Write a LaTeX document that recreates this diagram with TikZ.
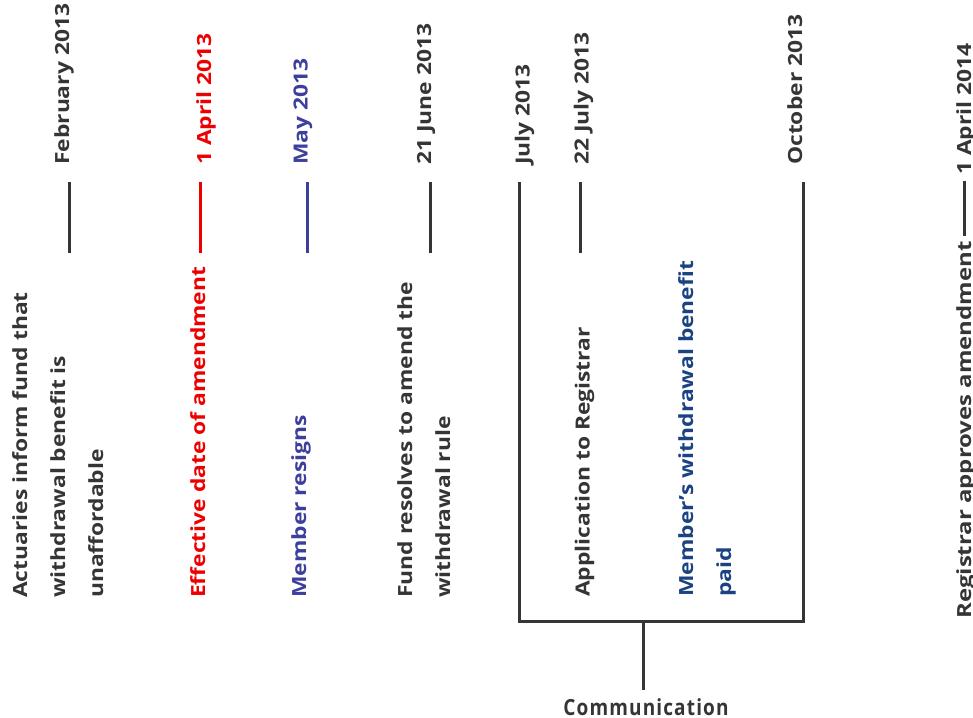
\documentclass[tikz,border=0pt]{standalone}
\usepackage{graphicx}
\usepackage{fontspec}
\newfontfamily\rotfont{Open Sans}[FakeStretch=1.17]
\newfontfamily\comfont{Open Sans}[LetterSpace=6]
\definecolor{ink}{HTML}{353535}
\definecolor{redc}{HTML}{EE0000}
\definecolor{mayc}{HTML}{3D3F9C}
\definecolor{paidc}{HTML}{1B4382}
\begin{document}
\begin{tikzpicture}[x=1pt,y=-1pt,
  lbl/.style={rotate=90, anchor=base west, inner sep=0pt, align=left,
    font=\rotfont\bfseries\fontsize{19.5}{38}\selectfont, text=ink},
  tickline/.style={line width=3pt, draw=ink}]
\useasboundingbox (0,0) rectangle (973,717);
\clip (0,0) rectangle (973,717);

% labels (multi-line nodes are anchored at the baseline of their last line)
\node[lbl] (feb) at (69,165) {February 2013};
\node[lbl] (act) at (103,598) {Actuaries inform fund that\\withdrawal benefit is\\unaffordable};
\node[lbl,text=redc] (apr) at (211,165) {1 April 2013};
\node[lbl,text=redc] (eff) at (205,598) {Effective date of amendment};
\node[lbl,text=mayc] (may) at (307.5,165) {May 2013};
\node[lbl,text=mayc] (res) at (306,598) {Member resigns};
\node[lbl] (jun) at (431,165) {21 June 2013};
\node[lbl] (fund) at (450,598) {Fund resolves to amend the\\withdrawal rule};
\node[lbl] (jul) at (529.5,165) {July 2013};
\node[lbl] (jultt) at (588.5,165) {22 July 2013};
\node[lbl] (app) at (589.5,597) {Application to Registrar};
\node[lbl,text=paidc] (paid) at (731,597) {Member’s withdrawal benefit\\paid};
\node[lbl] (oct) at (802,165) {October 2013};
\node[lbl] (aprf) at (971,175) {1 April 2014};
\node[lbl] (reg) at (971,619) {\scalebox{1.05}[1]{Registrar approves amendment}};
\node[font=\comfont\bfseries\fontsize{19}{24}\selectfont, text=ink, anchor=base, inner sep=0pt]
  (comm) at (646,715) {\scalebox{1}[1.17]{Communication}};

% tick coordinates
\coordinate (febA) at (69.3,182);  \coordinate (febB) at (69.3,253);
\coordinate (aprA) at (200.7,182); \coordinate (aprB) at (200.7,253);
\coordinate (mayA) at (307.6,182); \coordinate (mayB) at (307.6,253);
\coordinate (junA) at (430,182);   \coordinate (junB) at (430,253);
\coordinate (jtA) at (580,182);    \coordinate (jtB) at (580,253);
\coordinate (julA) at (519.5,182); \coordinate (julB) at (519.5,621.5);
\coordinate (octA) at (803.5,182); \coordinate (octB) at (803.5,621.5);
\coordinate (mid) at (643.5,621.5);
\coordinate (regA) at (964,181);   \coordinate (regB) at (964,236);

\draw[tickline] (febA) -- (febB);
\draw[tickline, draw=redc] (aprA) -- (aprB);
\draw[tickline, draw=mayc] (mayA) -- (mayB);
\draw[tickline] (junA) -- (junB);
\draw[tickline] (jtA) -- (jtB);
\draw[tickline] (julA) -- (julB) -- (octB) -- (octA);
\draw[tickline] (mid) -- ([yshift=8pt]comm.north -| mid);
\draw[tickline] (regA) -- (regB);
\end{tikzpicture}
\end{document}
